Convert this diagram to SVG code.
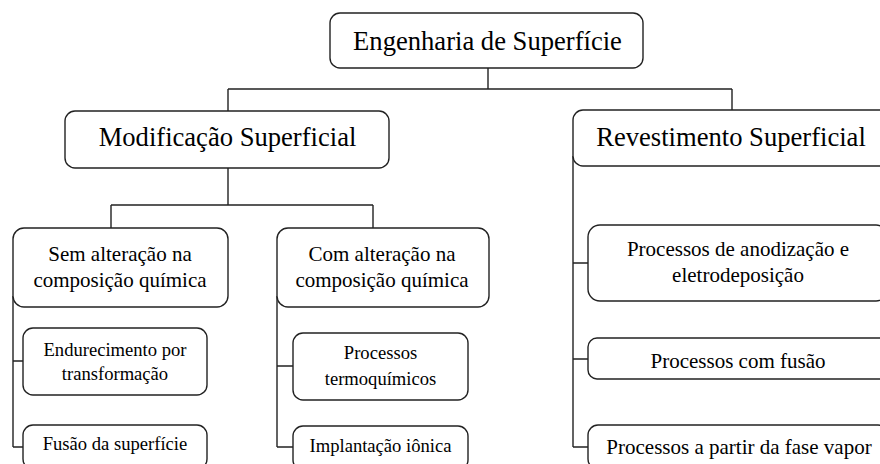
<svg xmlns="http://www.w3.org/2000/svg" width="880" height="464" viewBox="0 0 880 464">
<style>
.box{fill:#fff;stroke:#222;stroke-width:1.4}
.con{fill:none;stroke:#222;stroke-width:1.4}
text{font-family:"Liberation Serif","Times New Roman",serif;fill:#000;text-anchor:middle}
.t1{font-size:26.6px}
.t2{font-size:21px}
.t3{font-size:18.6px}
</style>
<rect width="880" height="464" fill="#fff"/>
<g id="connectors">
<path class="con" d="M488,68 V89 M228,89 H732 M228,89 V111 M732,89 V110"/>
<path class="con" d="M228,168 V205 M111,205 H373 M111,205 V228 M373,205 V228"/>
<path class="con" d="M13,296 V447 M13,361 H24 M13,447 H24"/>
<path class="con" d="M277,296 V447 M277,366 H293 M277,447 H293"/>
<path class="con" d="M573,156 V447 M573,263 H589 M573,359 H589 M573,447 H589"/>
</g>
<g id="n_engenharia">
<rect class="box" x="330" y="13" width="313" height="55" rx="10"/>
<text class="t1" x="487.5" y="50">Engenharia de Superfície</text>
</g>
<g id="n_modificacao">
<rect class="box" x="65" y="111" width="324" height="57" rx="10"/>
<text class="t1" x="227.5" y="146">Modificação Superficial</text>
</g>
<g id="n_revestimento">
<rect class="box" x="573" y="110" width="316" height="56" rx="10"/>
<text class="t1" x="731" y="146">Revestimento Superficial</text>
</g>
<g id="n_sem">
<rect class="box" x="13" y="228" width="215" height="79" rx="11"/>
<text class="t2" x="120" y="261">Sem alteração na</text>
<text class="t2" x="120" y="287">composição química</text>
</g>
<g id="n_com">
<rect class="box" x="277" y="228" width="212" height="79" rx="11"/>
<text class="t2" x="382" y="261">Com alteração na</text>
<text class="t2" x="382" y="287">composição química</text>
</g>
<g id="n_endurecimento">
<rect class="box" x="23" y="328" width="184" height="67" rx="10"/>
<text class="t3" x="115" y="356">Endurecimento por</text>
<text class="t3" x="115" y="380">transformação</text>
</g>
<g id="n_fusao_sup">
<rect class="box" x="23" y="425" width="184" height="44" rx="10"/>
<text class="t3" x="115" y="450">Fusão da superfície</text>
</g>
<g id="n_termoquimicos">
<rect class="box" x="293" y="333" width="175" height="67" rx="10"/>
<text class="t3" x="380.5" y="359">Processos</text>
<text class="t3" x="380.5" y="385">termoquímicos</text>
</g>
<g id="n_implantacao">
<rect class="box" x="293" y="426" width="175" height="44" rx="10"/>
<text class="t3" x="380.5" y="452">Implantação iônica</text>
</g>
<g id="n_anodizacao">
<rect class="box" x="588" y="225" width="300" height="76" rx="12"/>
<text class="t2" x="738" y="256">Processos de anodização e</text>
<text class="t2" x="738" y="282">eletrodeposição</text>
</g>
<g id="n_comfusao">
<rect class="box" x="588" y="338" width="300" height="41" rx="9"/>
<text class="t2" x="738" y="368">Processos com fusão</text>
</g>
<g id="n_vapor">
<rect class="box" x="588" y="425" width="300" height="44" rx="10"/>
<text class="t2" x="739" y="454">Processos a partir da fase vapor</text>
</g>
</svg>
